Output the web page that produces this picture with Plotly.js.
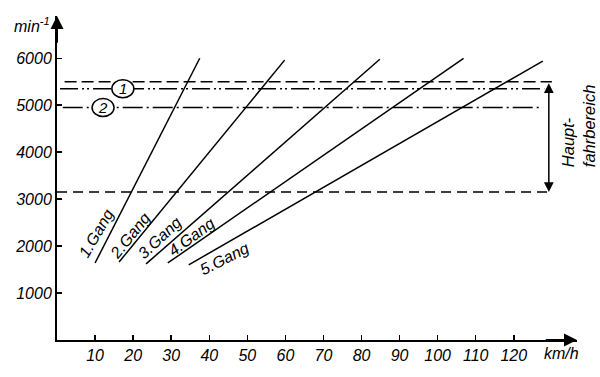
<!DOCTYPE html>
<html>
<head>
<meta charset="utf-8">
<script src="https://cdn.plot.ly/plotly-3.0.1.min.js"></script>
<style>html,body{margin:0;padding:0;background:#fff;}#chart{width:600px;height:377px;}</style>
</head>
<body>
<div id="chart"></div>
<script>
// ---- data ----
const gearNames = ['1.Gang', '2.Gang', '3.Gang', '4.Gang', '5.Gang'];
const gearSpeedStart = [10, 16.3, 23.4, 29.1, 34.6];
const gearRpmStart = [1640, 1660, 1620, 1640, 1600];
const gearSpeedEnd = [37.5, 59.8, 84.8, 106.8, 127.6];
const gearRpmEnd = [6000, 5960, 5980, 6000, 5940];
const gearLabelSpeed = [10.5, 19.2, 27.0, 35.4, 44.1];
const gearLabelRpm = [2280, 2230, 2190, 2210, 1740];
const gearLabelAngle = [-60, -51, -43, -36, -27];

const levelNames = ['upper', '1', '2', 'lower'];
const levelRpm = [5500, 5350, 4950, 3150];
const levelSpeedStart = [2, 0.8, 1.5, 0];
const levelSpeedEnd = [130, 128, 127.5, 130];
const levelDash = ['12px,5px', '18px,4px,2px,3px,2px,4px', '20px,4px,2px,4px', '10px,6px'];

const markerLabels = ['1', '2'];
const markerSpeed = [17.3, 12.1];
const markerRpm = [5350, 4950];

const xTicks = [10, 20, 30, 40, 50, 60, 70, 80, 90, 100, 110, 120];
const yTicks = [1000, 2000, 3000, 4000, 5000, 6000];
const rangeSpeed = 129.2;
const rangeRpm = [3150, 5500];

// ---- build ----
const fontFam = '"Liberation Sans", Arial, sans-serif';
const traces = [];
gearNames.forEach((g, i) => {
  traces.push({
    type: 'scatter', mode: 'lines', name: g,
    x: [gearSpeedStart[i], gearSpeedEnd[i]],
    y: [gearRpmStart[i], gearRpmEnd[i]],
    line: {color: '#000', width: 1.5},
    hoverinfo: 'skip'
  });
});
levelNames.forEach((n, i) => {
  traces.push({
    type: 'scatter', mode: 'lines', name: n,
    x: [levelSpeedStart[i], levelSpeedEnd[i]],
    y: [levelRpm[i], levelRpm[i]],
    line: {color: '#000', width: 1.5, dash: levelDash[i]},
    hoverinfo: 'skip'
  });
});

const shapes = markerLabels.map((m, i) => ({
  type: 'circle', xref: 'x', yref: 'y', layer: 'above',
  xsizemode: 'pixel', ysizemode: 'pixel',
  xanchor: markerSpeed[i], yanchor: markerRpm[i],
  x0: -11, x1: 11, y0: -9, y1: 9,
  fillcolor: '#fff', line: {color: '#000', width: 1.5}
}));

const annotations = [];
// axis arrowheads (overlaying the axis line ends)
annotations.push({x: 0, y: 6900, ax: 0, ay: 6300, xref: 'x', yref: 'y', axref: 'x', ayref: 'y',
  text: '', showarrow: true, arrowhead: 2, arrowsize: 1.3, arrowwidth: 2, arrowcolor: '#000'});
annotations.push({x: 136.6, y: 0, ax: 128, ay: 0, xref: 'x', yref: 'y', axref: 'x', ayref: 'y',
  text: '', showarrow: true, arrowhead: 2, arrowsize: 1.3, arrowwidth: 2, arrowcolor: '#000'});
// Hauptfahrbereich double arrow
annotations.push({x: rangeSpeed, y: rangeRpm[0], ax: rangeSpeed, ay: rangeRpm[1], xref: 'x', yref: 'y', axref: 'x', ayref: 'y',
  text: '', showarrow: true, arrowside: 'end+start', arrowhead: 2, startarrowhead: 2,
  arrowsize: 1.3, startarrowsize: 1.3, arrowwidth: 1.5, arrowcolor: '#000'});
gearNames.forEach((g, i) => {
  annotations.push({x: gearLabelSpeed[i], y: gearLabelRpm[i], xref: 'x', yref: 'y', text: g,
    showarrow: false, textangle: gearLabelAngle[i],
    font: {family: fontFam, size: 16, color: '#000', style: 'italic'}});
});
markerLabels.forEach((m, i) => {
  annotations.push({x: markerSpeed[i], y: markerRpm[i], xref: 'x', yref: 'y', text: m,
    showarrow: false, font: {family: fontFam, size: 15, color: '#000', style: 'italic'}});
});
annotations.push({x: 0, y: 0.972, xref: 'paper', yref: 'paper', xanchor: 'right', yanchor: 'middle',
  xshift: -5, text: 'min<sup>-1</sup>', showarrow: false,
  font: {family: fontFam, size: 16, color: '#000', style: 'italic'}});
annotations.push({x: 132.5, y: 0, xref: 'x', yref: 'paper', xanchor: 'center', yanchor: 'top',
  yshift: -3, text: 'km/h', showarrow: false,
  font: {family: fontFam, size: 16, color: '#000', style: 'italic'}});
annotations.push({x: 1.002, y: 0.66, xref: 'paper', yref: 'paper', xanchor: 'center', yanchor: 'middle',
  text: 'Haupt-<br>fahrbereich', textangle: -90, align: 'left', showarrow: false,
  font: {family: fontFam, size: 16.5, color: '#000', style: 'italic'}});

const layout = {
  width: 600, height: 377,
  margin: {l: 57, r: 23, t: 16, b: 37},
  paper_bgcolor: '#fff', plot_bgcolor: '#fff',
  showlegend: false,
  xaxis: {range: [0, 136.6], tickvals: xTicks, ticktext: xTicks.map(String),
    ticks: 'inside', ticklen: 5, tickwidth: 1.5, tickcolor: '#000',
    showgrid: false, zeroline: false, showline: true, linewidth: 2, linecolor: '#000',
    tickfont: {family: fontFam, size: 16, color: '#000', style: 'italic'}},
  yaxis: {range: [0, 6900], tickvals: yTicks, ticktext: yTicks.map(String),
    ticks: 'inside', ticklen: 5, tickwidth: 1.5, tickcolor: '#000',
    showgrid: false, zeroline: false, showline: true, linewidth: 2, linecolor: '#000',
    tickfont: {family: fontFam, size: 16, color: '#000', style: 'italic'}},
  shapes: shapes,
  annotations: annotations
};

Plotly.newPlot('chart', traces, layout, {staticPlot: true, displayModeBar: false});
</script>
</body>
</html>
